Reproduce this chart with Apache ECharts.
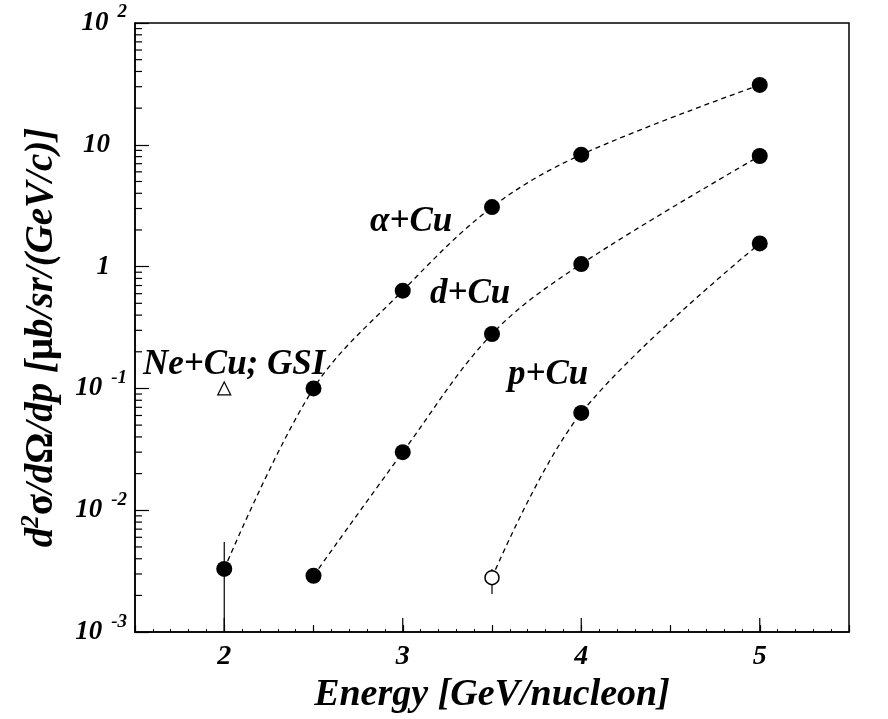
<!DOCTYPE html>
<html lang="en">
<head>
  <meta charset="UTF-8">
  <script src="https://cdn.jsdelivr.net/npm/echarts@6/dist/echarts.min.js"></script>
  <title>cross section vs energy</title>
</head>
<style>
  html, body { margin: 0; height: 100%; background: #fff; }
  #chart { width: 888px; height: 719px; }
</style>
<body>
  <div id="chart"></div>
  <script type="text/javascript">
    // data
    var alphaX = [2, 2.5, 3, 3.5, 4, 5];
    var alphaY = [0.0033, 0.10, 0.635, 3.08, 8.3, 31];
    var deutX = [2.5, 3, 3.5, 4, 5];
    var deutY = [0.0029, 0.030, 0.28, 1.05, 8.1];
    var protX = [3.5, 4, 5];
    var protY = [0.0028, 0.063, 1.55];
    var protOpenIndex = 0;          // first p+Cu point is an open circle
    var gsiX = [2];
    var gsiY = [0.10];
    // error bars: [x, low, high]
    var errBars = [[2, 0.0008, 0.0055], [3.5, 0.00205, 0.0033]];
    var xMajor = [2, 3, 4, 5];
    var yMinor = [];
    [0.001, 0.01, 0.1, 1, 10].forEach(function (d) {
      for (var k = 2; k <= 9; k++) yMinor.push(d * k);
    });
    // curve labels, anchored on their left edge
    var labelNames = ['α+Cu', 'd+Cu', 'p+Cu', 'Ne+Cu; GSI'];
    var labelX = [2.817, 3.153, 3.590, 1.545];
    var labelY = [2.33, 0.60, 0.13, 0.157];

    var font = 'Liberation Serif';
    function zip(xs, ys) {
      return xs.map(function (x, i) { return [x, ys[i]]; });
    }

    var chart = echarts.init(document.getElementById('chart'));

    var curveStyle = { color: '#000', width: 1.3, type: [5, 4] };
    var bi = { fontFamily: font, fontStyle: 'italic', fontWeight: 'bold', color: '#000' };
    function txt(size, extra) {
      var s = Object.assign({ fontSize: size }, bi);
      return Object.assign(s, extra || {});
    }

    option = {
      animation: false,
      backgroundColor: '#fff',
      grid: {
        left: 135, right: 39, top: 23, bottom: 77,
        show: true, borderColor: '#000', borderWidth: 1.5
      },
      xAxis: {
        type: 'value',
        min: 1.5, max: 5.5, interval: 0.5,
        name: 'Energy [GeV/nucleon]',
        nameLocation: 'middle',
        nameGap: 29,
        nameTextStyle: txt(38),
        axisLine: { lineStyle: { color: '#000', width: 1.5 } },
        axisTick: { inside: true, length: 7, lineStyle: { color: '#000', width: 1.2 } },
        minorTick: { show: true, splitNumber: 5, length: 3, lineStyle: { color: '#000' } },
        splitLine: { show: false },
        axisLabel: Object.assign(txt(28), {
          margin: 11,
          formatter: function (v) { return v % 1 === 0 && v > 1.5 && v < 5.5 ? String(v) : ''; }
        })
      },
      yAxis: {
        type: 'log',
        logBase: 10,
        min: 0.001, max: 100,
        name: '{i|d}{s|2}{g|σ}{i|/d}{g|Ω}{i|/dp [}{g|μ}{i|b/sr/(GeV/c)]}',
        nameLocation: 'middle',
        nameRotate: 90,
        nameGap: 71,
        nameTextStyle: {
          color: '#000',
          padding: [0, 20, 0, 0],
          rich: {
            i: txt(39),
            g: { fontFamily: font, fontWeight: 'bold', fontSize: 39, color: '#000' },
            s: txt(25, { padding: [0, 0, 20, 0] })
          }
        },
        axisLine: { lineStyle: { color: '#000', width: 1.5 } },
        axisTick: { inside: true, length: 14, lineStyle: { color: '#000', width: 1.2 } },
        splitLine: { show: false },
        axisLabel: {
          margin: 8,
          formatter: function (v) {
            var e = Math.round(Math.log(v) / Math.LN10);
            if (e === 0) return '{p|1}';
            if (e === 1) return '{p|10}';
            return '{b|10}{e|' + e + '}';
          },
          rich: {
            p: txt(27, { padding: [0, 17, 0, 0] }),
            b: txt(27),
            e: txt(19, { padding: [0, 0, 21, 9] })
          }
        }
      },
      series: [
        {
          name: 'y minor ticks',
          type: 'custom',
          silent: true,
          data: yMinor.map(function (v) { return [1.5, v]; }),
          encode: { x: 0, y: 1 },
          renderItem: function (params, api) {
            var p = api.coord([api.value(0), api.value(1)]);
            return { type: 'line', shape: { x1: p[0], y1: p[1], x2: p[0] + 7, y2: p[1] },
              style: { stroke: '#000', lineWidth: 1.2 } };
          }
        },
        {
          name: 'x major ticks',
          type: 'custom',
          silent: true,
          data: xMajor.map(function (v) { return [v, 0.001]; }),
          encode: { x: 0, y: 1 },
          renderItem: function (params, api) {
            var p = api.coord([api.value(0), api.value(1)]);
            return { type: 'line', shape: { x1: p[0], y1: p[1], x2: p[0], y2: p[1] - 14 },
              style: { stroke: '#000', lineWidth: 1.2 } };
          }
        },
        {
          name: 'error bars',
          type: 'custom',
          silent: true,
          clip: true,
          data: errBars,
          encode: { x: 0, y: [1, 2] },
          renderItem: function (params, api) {
            var lo = api.coord([api.value(0), api.value(1)]);
            var hi = api.coord([api.value(0), api.value(2)]);
            return { type: 'line', shape: { x1: lo[0], y1: lo[1], x2: hi[0], y2: hi[1] },
              style: { stroke: '#000', lineWidth: 1.2 } };
          }
        },
        {
          name: 'α+Cu',
          type: 'line',
          smooth: 0.35,
          data: zip(alphaX, alphaY),
          symbol: 'circle',
          symbolSize: 16,
          itemStyle: { color: '#000' },
          lineStyle: curveStyle
        },
        {
          name: 'd+Cu',
          type: 'line',
          smooth: 0.35,
          data: zip(deutX, deutY),
          symbol: 'circle',
          symbolSize: 16,
          itemStyle: { color: '#000' },
          lineStyle: curveStyle
        },
        {
          name: 'p+Cu',
          type: 'line',
          smooth: 0.35,
          data: zip(protX, protY).map(function (d, i) {
            if (i !== protOpenIndex) return d;
            return { value: d, symbolSize: 14,
              itemStyle: { color: '#fff', borderColor: '#000', borderWidth: 1.5 } };
          }),
          symbol: 'circle',
          symbolSize: 16,
          itemStyle: { color: '#000' },
          lineStyle: curveStyle
        },
        {
          name: 'Ne+Cu; GSI',
          type: 'scatter',
          data: zip(gsiX, gsiY),
          symbol: 'triangle',
          symbolSize: 13,
          itemStyle: { color: '#fff', borderColor: '#000', borderWidth: 1.2, opacity: 1 }
        },
        {
          name: 'labels',
          type: 'scatter',
          silent: true,
          symbolSize: 0,
          itemStyle: { opacity: 1 },
          data: labelNames.map(function (n, i) { return { name: n, value: [labelX[i], labelY[i]] }; }),
          label: Object.assign(txt(35), {
            show: true,
            position: 'right',
            distance: 0,
            opacity: 1,
            formatter: '{b}'
          })
        }
      ]
    };

    chart.setOption(option);
  </script>
</body>
</html>
